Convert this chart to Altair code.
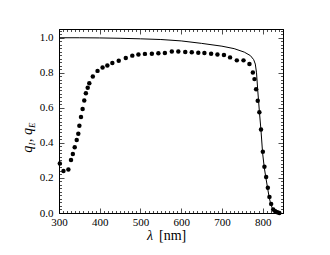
import altair as alt
import pandas as pd

# line: q_I
line_wl = [300, 350, 400, 450, 500, 550, 600, 650, 700, 730, 755, 770, 778, 782, 785, 788, 792, 796, 800, 804, 808, 812, 816, 820, 825, 830, 835]
line_q = [1.0, 1.0, 0.999, 0.997, 0.994, 0.99, 0.982, 0.968, 0.952, 0.938, 0.918, 0.898, 0.875, 0.85, 0.80, 0.70, 0.58, 0.47, 0.34, 0.26, 0.20, 0.145, 0.09, 0.05, 0.02, 0.006, 0.0]

# dots: q_E
dot_wl = [302, 311, 323, 329.5, 334, 338.6, 343.5, 347.4, 350, 354, 358, 362, 366, 370.5, 374.4, 383, 394.6, 407, 418.7, 431, 446.7, 464, 480, 495, 511, 528, 544, 560, 577, 593, 610, 626, 642, 657, 673.5, 689, 705, 720, 736.6, 753, 767.6, 776, 780, 784, 788, 792, 796, 800.5, 804.4, 808.6, 812.8, 816.7, 820.9, 826, 831, 836, 841]
dot_q = [0.283, 0.24, 0.248, 0.302, 0.337, 0.375, 0.417, 0.452, 0.498, 0.548, 0.594, 0.642, 0.683, 0.715, 0.74, 0.779, 0.811, 0.83, 0.842, 0.856, 0.869, 0.885, 0.898, 0.905, 0.908, 0.909, 0.911, 0.913, 0.921, 0.921, 0.919, 0.917, 0.915, 0.913, 0.909, 0.905, 0.902, 0.888, 0.871, 0.871, 0.85, 0.802, 0.764, 0.706, 0.64, 0.575, 0.477, 0.35, 0.264, 0.206, 0.144, 0.092, 0.052, 0.02, 0.01, 0.004, 0.0]

x_ticks = list(range(300, 851, 10))
y_ticks = [round(i * 0.02, 2) for i in range(0, 53)]

FONT = "Liberation Serif"
W, H = 224, 184

line_df = pd.DataFrame({"wl": line_wl, "q": line_q})
dot_df = pd.DataFrame({"wl": dot_wl, "q": dot_q})

xs = alt.Scale(domain=[300, 850], nice=False, zero=False)
ys = alt.Scale(domain=[0, 1.05], nice=False, zero=False)

x_major = "datum.value % 100 === 0"
y_major = "abs(datum.value * 5 - round(datum.value * 5)) < 1e-6"

def ax(orient, major, labels, fmt_expr, pad=2):
    kw = dict(
        orient=orient, values=x_ticks if orient in ("bottom", "top") else y_ticks,
        grid=False, domainColor="black", domainWidth=1, tickColor="black", tickWidth=0.7,
        tickSize={"condition": {"test": major, "value": -5}, "value": -2.5},
        title=None, labels=labels,
    )
    if labels:
        kw.update(labelExpr=fmt_expr, labelFont=FONT, labelFontSize=11, labelColor="black",
                  labelPadding=pad, labelFlush=False, labelOverlap=False)
    return alt.Axis(**kw)

xlab = "%s ? format(datum.value, 'd') : ''" % x_major
ylab = "%s ? format(datum.value, '.1f') : ''" % y_major

line = alt.Chart(line_df).mark_line(color="black", strokeWidth=1).encode(
    x=alt.X("wl:Q", scale=xs, axis=ax("bottom", x_major, True, xlab, 8)),
    y=alt.Y("q:Q", scale=ys, axis=ax("left", y_major, True, ylab, 11)),
)
dots = alt.Chart(dot_df).mark_circle(size=20, color="black", opacity=1).encode(
    x=alt.X("wl:Q", scale=xs, axis=ax("top", x_major, False, None)),
    y=alt.Y("q:Q", scale=ys, axis=ax("right", y_major, False, None)),
)

def txt(s, x, y, size, style="normal", angle=0, align="left"):
    return alt.Chart(pd.DataFrame({"t": [s]})).mark_text(
        font=FONT, fontSize=size, fontStyle=style, angle=angle, align=align,
        baseline="alphabetic", color="black",
    ).encode(text="t:N", x=alt.value(x), y=alt.value(y))

titles = [
    txt("λ", 88, 211, 14, "italic"),
    txt("[nm]", 100, 211, 14),
    txt("q", -27, 123.7, 14, "italic", 270),
    txt("I", -24, 116.5, 9, "italic", 270),
    txt(",", -27, 113, 14, "normal", 270),
    txt("q", -27, 106, 14, "italic", 270),
    txt("E", -24, 99, 9, "italic", 270),
]

chart = alt.layer(line, dots, *titles).resolve_scale(x="independent", y="independent").properties(
    width=W, height=H,
    autosize=alt.AutoSizeParams(type="none"),
    padding={"left": 51, "top": 21, "right": 20, "bottom": 40},
).configure_view(stroke="black", strokeWidth=1)

chart.save("out.html", embed_options={"renderer": "svg", "actions": False})
